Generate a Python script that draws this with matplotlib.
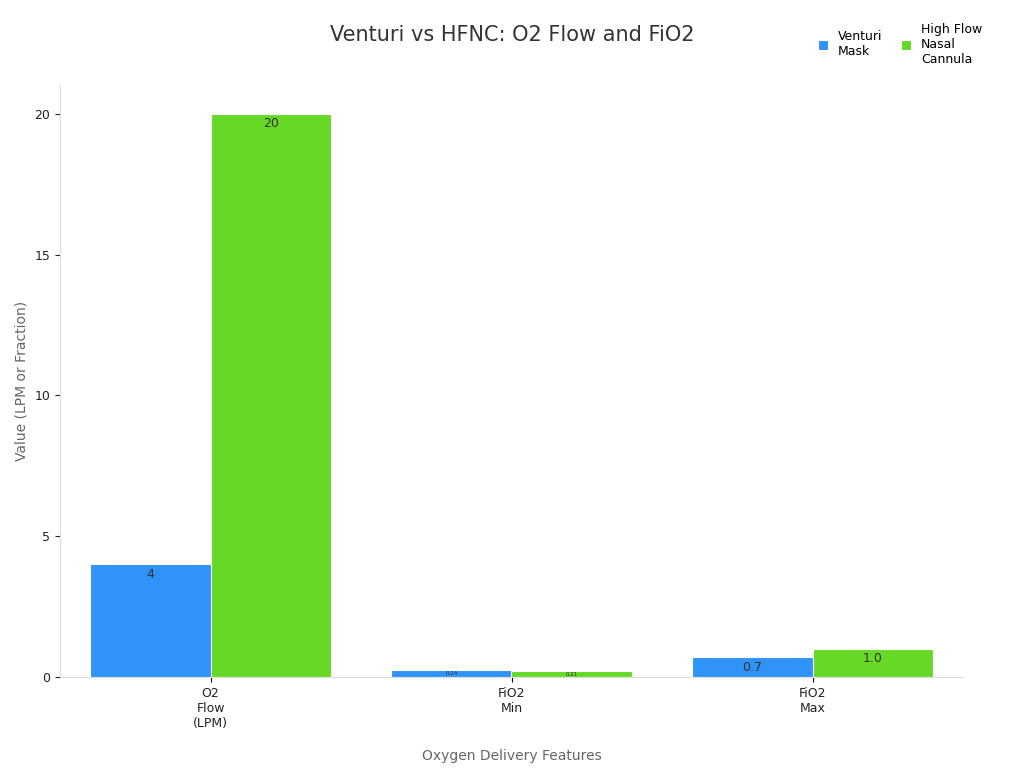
import matplotlib
matplotlib.use("Agg")
import matplotlib.pyplot as plt
import numpy as np

categories = ["O2\nFlow\n(LPM)", "FiO2\nMin", "FiO2\nMax"]
venturi = [4, 0.24, 0.7]
hfnc = [20, 0.21, 1.0]
venturi_labels = ["4", "0.24", "0.7"]
hfnc_labels = ["20", "0.21", "1.0"]

fig = plt.figure(figsize=(10.24, 7.68), dpi=100)
ax = fig.add_axes([60/1024, 1-677/768, 903/1024, 592/768])
x = np.arange(len(categories))
w = 0.4
b1 = ax.bar(x - w/2, venturi, w, color="#2f93f7", edgecolor="white", linewidth=0.8, label="Venturi\nMask")
b2 = ax.bar(x + w/2, hfnc, w, color="#66d926", edgecolor="white", linewidth=0.8, label="High Flow\nNasal\nCannula")
for bars, labs in ((b1, venturi_labels), (b2, hfnc_labels)):
    for r, l in zip(bars, labs):
        h = r.get_height()
        fs = 9 if h > 0.5 else 4
        ax.text(r.get_x()+r.get_width()/2, h - (0.12 if h > 0.5 else 0.02), l, ha="center", va="top", fontsize=fs, color="#333333")
ax.set_xlim(-0.5, 2.5)
ax.set_ylim(0, 21.03)
ax.set_xticks(x)
ax.set_xticklabels(categories, fontsize=9, color="#222222")
ax.set_yticks([0, 5, 10, 15, 20])
ax.tick_params(axis="y", labelsize=9, colors="#222222")
for s in ("top", "right"):
    ax.spines[s].set_visible(False)
for s in ("left", "bottom"):
    ax.spines[s].set_color("#dddddd")
ax.set_xlabel("Oxygen Delivery Features", fontsize=10, color="#666666", labelpad=14)
ax.set_ylabel("Value (LPM or Fraction)", fontsize=10, color="#666666")
fig.text(0.5, 1-35/768, "Venturi vs HFNC: O2 Flow and FiO2", ha="center", va="center", fontsize=15, color="#333333")
fig.legend(handles=[b1, b2], loc="upper right", bbox_to_anchor=(0.97, 0.985), ncol=2, frameon=False,
           fontsize=9, handlelength=0.8, handleheight=0.8, columnspacing=1.5, alignment="left")
fig.savefig("out.png", dpi=100)
